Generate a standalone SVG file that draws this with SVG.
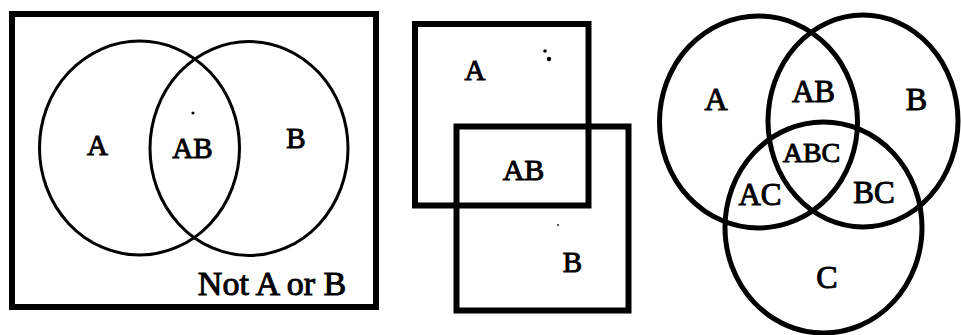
<svg xmlns="http://www.w3.org/2000/svg" width="961" height="335" viewBox="0 0 961 335">
<style>
.bg{fill:#fff}
.shape{fill:none;stroke:#000}
.thin{stroke-width:3}
.med{stroke-width:5}
.thick{stroke-width:6}
.lbl{font-family:"Liberation Serif","Times New Roman",serif;fill:#000;stroke:#000;stroke-width:1;text-anchor:middle}
.dot{fill:#000}
</style>
<rect class="bg" x="0" y="0" width="961" height="335"/>
<g id="panel-left">
  <g id="universe"><rect class="shape thick" x="12" y="14" width="364" height="293"/>
    <text class="lbl" x="272" y="295" font-size="34">Not A or B</text></g>
  <g id="circle-A"><ellipse class="shape thin" cx="139.5" cy="148" rx="100" ry="107"/>
    <text class="lbl" x="97.5" y="155" font-size="29">A</text></g>
  <g id="circle-B"><ellipse class="shape thin" cx="249" cy="148.5" rx="99" ry="107"/>
    <text class="lbl" x="296" y="148" font-size="29">B</text></g>
  <g id="region-AB"><text class="lbl" x="192.5" y="158" font-size="29">AB</text></g>
  <circle class="dot" cx="193" cy="113" r="1.6"/>
</g>
<g id="panel-middle">
  <g id="square-A"><rect class="shape thick" x="415" y="24" width="173.5" height="181.5"/>
    <text class="lbl" x="475" y="80" font-size="29">A</text></g>
  <g id="square-B"><rect class="shape thick" x="456.5" y="126.5" width="172" height="184"/>
    <text class="lbl" x="572.5" y="272" font-size="29">B</text></g>
  <g id="region-AB-sq"><text class="lbl" x="523.5" y="180" font-size="30">AB</text></g>
  <circle class="dot" cx="545" cy="51" r="1.8"/>
  <circle class="dot" cx="549" cy="59" r="2.2"/>
  <circle class="dot" cx="558" cy="225" r="0.9"/>
</g>
<g id="panel-right">
  <g id="c3-A"><ellipse class="shape med" cx="758.5" cy="122" rx="99" ry="106"/>
    <text class="lbl" x="716" y="110" font-size="32">A</text></g>
  <g id="c3-B"><ellipse class="shape med" cx="863" cy="121" rx="95" ry="106"/>
    <text class="lbl" x="916.5" y="110" font-size="32">B</text></g>
  <g id="c3-C"><ellipse class="shape med" cx="823.5" cy="227.5" rx="98.5" ry="105.5"/>
    <text class="lbl" x="827" y="288" font-size="32">C</text></g>
  <g id="r-AB"><text class="lbl" x="813.5" y="102" font-size="31">AB</text></g>
  <g id="r-ABC"><text class="lbl" x="811.5" y="162" font-size="28">ABC</text></g>
  <g id="r-AC"><text class="lbl" x="760" y="205" font-size="31">AC</text></g>
  <g id="r-BC"><text class="lbl" x="874" y="203" font-size="31">BC</text></g>
</g>
<g id="connectors"></g>
</svg>
